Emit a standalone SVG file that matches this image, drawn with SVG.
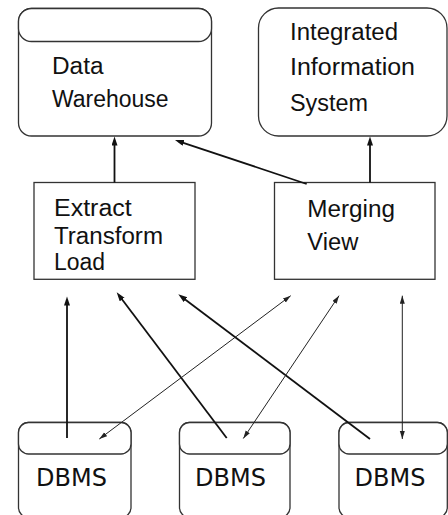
<svg xmlns="http://www.w3.org/2000/svg" width="448" height="515" viewBox="0 0 448 515">
  <style>
    .box { fill: #ffffff; stroke: #333333; stroke-width: 1.3; }
    .lbl { font-family: "Liberation Sans", Arial, sans-serif; font-size: 23px; fill: #111111; }
    .db { font-family: "DejaVu Sans", Verdana, sans-serif; font-size: 24px; fill: #111111; }
    .thick { stroke: #111111; stroke-width: 1.8; fill: none; marker-end: url(#headBig); }
    .thin { stroke: #222222; stroke-width: 1; fill: none; marker-start: url(#headSmall); marker-end: url(#headSmall); }
  </style>
  <defs>
    <marker id="headBig" markerUnits="userSpaceOnUse" markerWidth="10" markerHeight="7" refX="5" refY="3" orient="auto">
      <path d="M0,0 L9,3 L0,6 z" fill="#111111"/>
    </marker>
    <marker id="headSmall" markerUnits="userSpaceOnUse" markerWidth="9" markerHeight="6" refX="8" refY="2.5" orient="auto-start-reverse">
      <path d="M0,0 L8,2.5 L0,5 z" fill="#222222"/>
    </marker>
  </defs>
  <rect width="448" height="515" fill="#ffffff"/>

  <!-- storage nodes drawn as a box with a rounded lid band -->
  <g id="data-warehouse">
    <rect class="box" x="18.5" y="8.5" width="193" height="127.5" rx="13"/>
    <rect class="box" x="18.5" y="8.5" width="193" height="33" rx="13"/>
    <text class="lbl" x="52" y="74" textLength="51.5" lengthAdjust="spacingAndGlyphs">Data</text>
    <text class="lbl" x="52" y="107.3" textLength="116.5" lengthAdjust="spacingAndGlyphs">Warehouse</text>
  </g>

  <g id="integrated-information-system">
    <rect class="box" x="258.5" y="8" width="188.5" height="128" rx="20"/>
    <text class="lbl" x="290" y="40" textLength="108" lengthAdjust="spacingAndGlyphs">Integrated</text>
    <text class="lbl" x="290" y="75" textLength="125" lengthAdjust="spacingAndGlyphs">Information</text>
    <text class="lbl" x="290" y="110.5" textLength="78" lengthAdjust="spacingAndGlyphs">System</text>
  </g>

  <g id="extract-transform-load">
    <rect class="box" x="34" y="182.5" width="161" height="96.8"/>
    <text class="lbl" x="54" y="216" textLength="77.7" lengthAdjust="spacingAndGlyphs">Extract</text>
    <text class="lbl" x="54" y="244" textLength="109" lengthAdjust="spacingAndGlyphs">Transform</text>
    <text class="lbl" x="54" y="270" textLength="51" lengthAdjust="spacingAndGlyphs">Load</text>
  </g>

  <g id="merging-view">
    <rect class="box" x="274.5" y="182.5" width="160.5" height="96.8"/>
    <text class="lbl" x="307.3" y="216.7" textLength="87.7" lengthAdjust="spacingAndGlyphs">Merging</text>
    <text class="lbl" x="307.3" y="250" textLength="51" lengthAdjust="spacingAndGlyphs">View</text>
  </g>

  <g id="dbms-1">
    <rect class="box" x="18.5" y="422.5" width="112.5" height="95" rx="10"/>
    <rect class="box" x="18.5" y="422.5" width="112.5" height="31.5" rx="10"/>
    <text class="db" x="36" y="485.7">DBMS</text>
  </g>

  <g id="dbms-2">
    <rect class="box" x="179.5" y="422.5" width="110.5" height="95" rx="10"/>
    <rect class="box" x="179.5" y="422.5" width="110.5" height="31.5" rx="10"/>
    <text class="db" x="195" y="485.7">DBMS</text>
  </g>

  <g id="dbms-3">
    <rect class="box" x="339" y="422.5" width="108.3" height="95" rx="10"/>
    <rect class="box" x="339" y="422.5" width="108.3" height="31.5" rx="10"/>
    <text class="db" x="354.5" y="485.7">DBMS</text>
  </g>

  <g id="connectors">
    <!-- loading paths into the warehouse and the integrated system -->
    <line class="thick" x1="114.5" y1="182.5" x2="114.5" y2="140.5"/>
    <line class="thick" x1="306.7" y1="184" x2="178.8" y2="141.3"/>
    <line class="thick" x1="370" y1="182.5" x2="370" y2="140.5"/>
    <!-- sources feeding extract/transform/load -->
    <line class="thick" x1="67" y1="438" x2="67" y2="300.5"/>
    <line class="thick" x1="226.7" y1="438" x2="119.1" y2="295.5"/>
    <line class="thick" x1="370" y1="439" x2="181.5" y2="296.7"/>
    <!-- two-way links between the merging view and each source -->
    <line class="thin" x1="99.3" y1="439" x2="290.7" y2="295.7"/>
    <line class="thin" x1="243.3" y1="438.5" x2="339" y2="295.7"/>
    <line class="thin" x1="402.3" y1="439" x2="402.3" y2="295.7"/>
  </g>
</svg>
